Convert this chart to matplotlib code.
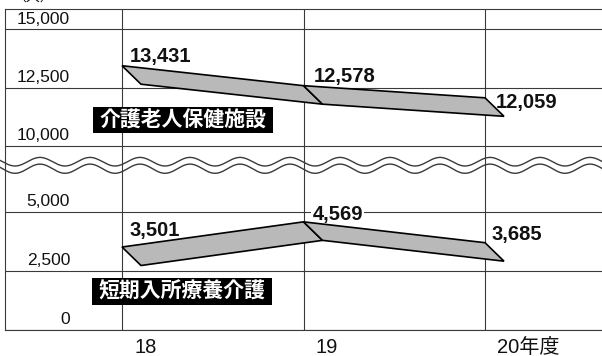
import numpy as np
import matplotlib
matplotlib.use('Agg')
import matplotlib.pyplot as plt
from matplotlib.patches import Polygon, Rectangle
from matplotlib.transforms import offset_copy

# データ
years = ['18', '19', '20年度']
rouken = [13431, 12578, 12059]      # 介護老人保健施設
tanki = [3501, 4569, 3685]          # 短期入所療養介護
rouken_name = '介護老人保健施設'
tanki_name = '短期入所療養介護'
top_ticks = [10000, 12500, 15000]
bottom_ticks = [0, 2500, 5000]

W, H = 602, 356
LINE = '#3a3a3a'
GRAY = '#b9b9b9'
JP = ['Noto Sans CJK JP', 'DejaVu Sans']
NUM = ['Liberation Sans', 'Noto Sans CJK JP']

fig = plt.figure(figsize=(W / 100, H / 100), dpi=100)

def px_axes(top, bottom):
    # ピクセル指定で軸を作る
    return fig.add_axes([5 / W, 1 - bottom / H, 597 / W, (bottom - top) / H])

ax1 = px_axes(9, 165)
ax2 = px_axes(165, 329.5)

xlim = ((5 - 122) / 181.5, (602 - 122) / 181.5)
ax1.set_ylim(10000 - 19 / 23.4 * 1000, 15000 + 20 / 23.4 * 1000)
ax2.set_ylim(0, 164.5 / 23.56 * 1000)

for ax, ticks in [(ax1, top_ticks), (ax2, bottom_ticks)]:
    ax.set_xlim(*xlim)
    ax.set_xticks([])
    ax.set_yticks([])
    ax.patch.set_alpha(0)
    for s in ax.spines.values():
        s.set_color(LINE)
        s.set_linewidth(0.8)
    ax.spines['right'].set_visible(False)
    for i in range(len(years)):
        ax.axvline(i, color=LINE, lw=0.8, zorder=1)
    for t in ticks:
        ax.axhline(t, color=LINE, lw=0.8, zorder=1)
        tr = offset_copy(ax.get_yaxis_transform(), fig=fig, x=65, y=5.5, units='dots')
        ax.text(0, t, f'{t:,}', transform=tr, ha='right', va='baseline',
                fontsize=12.5, family=NUM, color='#111')

ax1.spines['bottom'].set_visible(False)
ax2.spines['top'].set_visible(False)

# 立体的な帯
def ribbon(ax, vals):
    xs = np.arange(len(vals))
    disp = ax.transData.transform(np.column_stack([xs, vals]))
    low = ax.transData.inverted().transform(disp + np.array([19, -18.5]))
    for i in range(len(vals) - 1):
        pts = [(xs[i], vals[i]), (xs[i + 1], vals[i + 1]),
               tuple(low[i + 1]), tuple(low[i])]
        ax.add_patch(Polygon(pts, closed=True, facecolor=GRAY, edgecolor='black',
                             lw=1.2, joinstyle='miter', zorder=3, clip_on=False))

ribbon(ax1, rouken)
ribbon(ax2, tanki)

# 数値ラベル (dx, dy は dots)
rouken_off = [(8, 4), (10, 4), (11, -10)]
tanki_off = [(8, 11), (9, 1.5), (6, 3)]
for ax, vals, offs in [(ax1, rouken, rouken_off), (ax2, tanki, tanki_off)]:
    for i, (v, (dx, dy)) in enumerate(zip(vals, offs)):
        tr = offset_copy(ax.transData, fig=fig, x=dx, y=dy, units='dots')
        bb = dict(facecolor='white', edgecolor='none', pad=1) if v == 4569 else None
        ax.text(i, v, f'{v:,}', transform=tr, ha='left', va='baseline',
                fontsize=14.5, fontweight='bold', family=NUM, color='#111',
                bbox=bb, zorder=2)

# 系列名の黒ボックス
def name_box(text, x0, y0, x1, y1):
    fig.patches.append(Rectangle((x0 / W, 1 - y1 / H), (x1 - x0) / W, (y1 - y0) / H,
                                 transform=fig.transFigure, facecolor='black',
                                 edgecolor='none', zorder=6))
    fig.text((x0 + x1) / 2 / W, 1 - (y0 + y1) / 2 / H, text, ha='center',
             va='center', color='white', fontsize=15, fontweight='bold',
             family=JP, zorder=7)

name_box(rouken_name, 93, 107, 273, 133)
name_box(tanki_name, 92, 278, 272, 305)

# x ラベル
for i, lab in enumerate(years):
    tr = offset_copy(ax2.transData, fig=fig, x=12, y=-23.5, units='dots')
    ax2.text(i, 0, lab, transform=tr, ha='left', va='baseline',
             fontsize=14.5, family=NUM, color='#111', clip_on=False)

# 単位 (参照画像でも上端で切れている)
fig.text(12 / W, 1 - 5 / H, '（人）', ha='left', va='bottom', fontsize=10,
         family=JP, color='#111')

# 波線 (省略記号)
xw = np.linspace(0, W, 600)
period = 50
for c, a in [(161.7, 4.3), (168.7, 4.6)]:
    yw = c - a * np.cos(2 * np.pi * (xw - 40) / period)
    fig.add_artist(plt.Line2D(xw / W, 1 - yw / H, transform=fig.transFigure,
                              color=LINE, lw=1.0, zorder=8))

fig.savefig('out.png', dpi=100)
